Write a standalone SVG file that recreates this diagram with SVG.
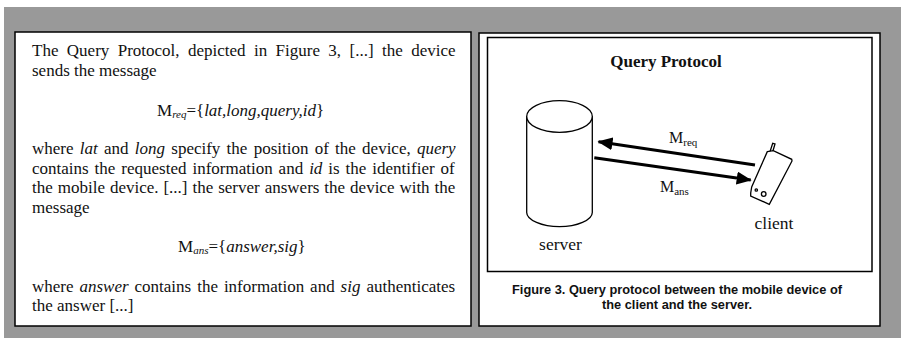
<svg xmlns="http://www.w3.org/2000/svg" width="901" height="338" viewBox="0 0 901 338">
<style>
text{font-family:"Liberation Serif","Times New Roman",serif;fill:#111}
.b{font-size:17px}
.i{font-style:italic}
.s{font-size:11px}
.l{font-size:17.500px;text-anchor:middle}
.m{font-size:16px}
.p{fill:#fff;stroke:#000;stroke-width:1.500}
.shape{fill:#fff;stroke:#000;stroke-width:1.300}
.con{fill:none;stroke:#000;stroke-width:3}
.cap{font-family:"Liberation Sans",Arial,sans-serif;font-weight:bold;font-size:12.800px;text-anchor:middle}
</style>
<defs>
<marker id="ah" markerUnits="userSpaceOnUse" markerWidth="16" markerHeight="14" refX="14" refY="6.500" orient="auto"><path d="M0 0L15 6.500L0 13z" fill="#000"/></marker>
</defs>
<rect width="901" height="338" fill="#fff"/>
<rect x="4" y="7" width="897" height="331" fill="#999"/>
<g id="text-panel">
<rect class="p" x="15" y="32" width="456" height="294"/>
<text class="b" x="32" y="55.500" word-spacing="4.150">The Query Protocol, depicted in Figure 3, [...] the device</text>
<text class="b" x="32" y="75.500">sends the message</text>
<text class="b" x="157" y="115.500">M<tspan class="i s" dy="2">req</tspan><tspan dy="-2">={</tspan><tspan class="i">lat,long,query,id</tspan>}</text>
<text class="b" x="32" y="154" word-spacing="2">where <tspan class="i">lat</tspan> and <tspan class="i">long</tspan> specify the position of the device, <tspan class="i">query</tspan></text>
<text class="b" x="32" y="173.500" word-spacing="1.700">contains the requested information and <tspan class="i">id</tspan> is the identifier of</text>
<text class="b" x="32" y="193" word-spacing="0.700">the mobile device. [...] the server answers the device with the</text>
<text class="b" x="32" y="213">message</text>
<text class="b" x="178" y="252">M<tspan class="i s" dy="2">ans</tspan><tspan dy="-2">={</tspan><tspan class="i">answer,sig</tspan>}</text>
<text class="b" x="32" y="291.500" word-spacing="1.700">where <tspan class="i">answer</tspan> contains the information and <tspan class="i">sig</tspan> authenticates</text>
<text class="b" x="32" y="311">the answer [...]</text>
</g>
<g id="figure-panel">
<rect class="p" x="479" y="33" width="401" height="293"/>
<rect class="p" x="487.500" y="37.500" width="384.500" height="234"/>
<text x="666" y="66.500" font-size="17" font-weight="bold" text-anchor="middle">Query Protocol</text>
<text class="cap" x="677" y="294">Figure 3. Query protocol between the mobile device of</text>
<text class="cap" x="677" y="309">the client and the server.</text>
</g>
<g id="server">
<path class="shape" d="M526.700 116V212.500C526.700 220 542 226.700 559.500 226.700S592.300 220 592.300 212.500V116"/>
<ellipse class="shape" cx="559.500" cy="116.500" rx="32.800" ry="15.800"/>
<text class="l" x="560.500" y="250">server</text>
</g>
<g id="client">
<path class="shape" d="M770 151.700L772.700 143.300L775 144L772.700 151.700"/>
<path class="shape" d="M767.300 151.700L773.300 150.700L791.700 159.300L792 161L769.300 204.300L750.700 196L750.700 193L751.700 187Z"/>
<circle class="shape" cx="756.300" cy="190" r="1.200"/>
<circle class="shape" cx="763.700" cy="194" r="2.300"/>
<text class="l" x="774" y="229">client</text>
</g>
<g id="connectors">
<line class="con" x1="755" y1="165" x2="598.500" y2="141.700" marker-end="url(#ah)"/>
<line class="con" x1="594.300" y1="157.700" x2="750.700" y2="180" marker-end="url(#ah)"/>
</g>
<g id="labels">
<text class="m" x="669" y="143">M<tspan class="s" dy="3">req</tspan></text>
<text class="m" x="660" y="192">M<tspan class="s" dy="3">ans</tspan></text>
</g>
</svg>
